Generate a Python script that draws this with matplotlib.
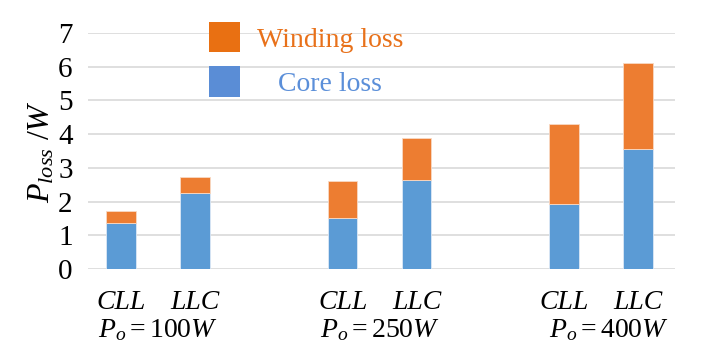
import numpy as np
import matplotlib.pyplot as plt
from matplotlib.patches import Patch
from matplotlib.transforms import blended_transform_factory

plt.rcParams['font.family'] = 'Liberation Serif'
plt.rcParams['mathtext.fontset'] = 'custom'
plt.rcParams['mathtext.rm'] = 'Liberation Serif'
plt.rcParams['mathtext.it'] = 'Liberation Serif:italic'

# donnees
topologies = ['CLL', 'LLC', 'CLL', 'LLC', 'CLL', 'LLC']
positions = [0, 1, 3, 4, 6, 7]
core_loss = [1.36, 2.26, 1.50, 2.65, 1.93, 3.57]
total_loss = [1.73, 2.72, 2.62, 3.88, 4.30, 6.12]
winding_loss = [t - c for t, c in zip(total_loss, core_loss)]
group_labels = [r'$P_o=100W$', r'$P_o=250W$', r'$P_o=400W$']
group_centers = [0.5, 3.5, 6.6]
yticks = [0, 1, 2, 3, 4, 5, 6, 7]

c_core = '#5B9BD5'
c_wind = '#ED7D31'

fig = plt.figure(figsize=(7.13, 3.6), dpi=100)
ax = fig.add_axes((0.1234, 0.2528, 0.8233, 0.6555))

ax.bar(positions, core_loss, width=0.4, color=c_core, edgecolor='#DCE8F5', linewidth=0.6, zorder=3)
ax.bar(positions, winding_loss, width=0.4, bottom=core_loss, color=c_wind, edgecolor='#F8D9C4',
       linewidth=0.6, zorder=3)

ax.set_xlim(-0.45, 7.5)
ax.set_ylim(0, 7)
ax.set_yticks(yticks)
ax.set_yticklabels([str(v) for v in yticks], fontsize=21)
ax.yaxis.grid(True, color='#D9D9D9', linewidth=1.2, zorder=0)
for s in ax.spines.values():
    s.set_visible(False)
ax.tick_params(axis='y', length=0, pad=11)

ax.set_xticks(positions)
ax.set_xticklabels(topologies, fontsize=20, style='italic')
ax.tick_params(axis='x', length=0, pad=15)

trans = blended_transform_factory(ax.transData, fig.transFigure)
for xc, lab in zip(group_centers, group_labels):
    ax.text(xc, 0.084, lab, transform=trans, ha='center', va='center', fontsize=20)

ax.set_ylabel(r'$P_{loss}\ /W$', fontsize=23, labelpad=1)

handles = [Patch(facecolor='#E97012', edgecolor='none'), Patch(facecolor='#5A8DD6', edgecolor='none')]
leg = fig.legend(handles, ['Winding loss', '   Core loss'], loc='upper left',
                 bbox_to_anchor=(0.258, 1.008), frameon=False, fontsize=20,
                 handlelength=1.12, handleheight=1.3, labelspacing=0.5, handletextpad=0.6,
                 labelcolor=['#E8711A', '#5B8FD9'])

fig.savefig('out.png', dpi=100)
